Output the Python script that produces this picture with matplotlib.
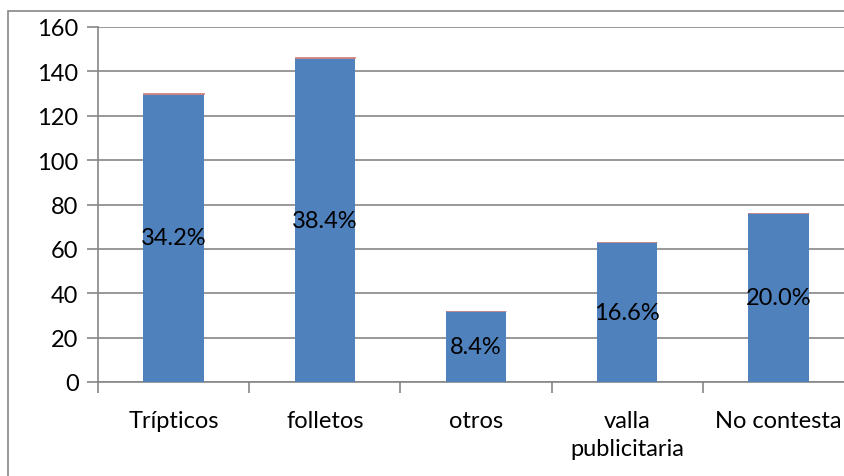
import matplotlib.pyplot as plt
from matplotlib.patches import Rectangle
import numpy as np

categories = ['Trípticos', 'folletos', 'otros', 'valla\npublicitaria', 'No contesta']
counts = [130, 146, 32, 63, 76]
shares = [0.342, 0.384, 0.084, 0.166, 0.200]
share_labels = ['34.2%', '38.4%', '8.4%', '16.6%', '20.0%']

BLUE = '#4F81BD'
RED = '#C0504D'
GRAY = '#868686'

plt.rcParams['font.family'] = ['Lato', 'DejaVu Sans']

fig = plt.figure(figsize=(8.45, 4.77), dpi=100)
# chart frame, running off the right and bottom edges
fig.patches.append(Rectangle((8 / 845, -0.1), 1.2, 1.1 - 12 / 477,
                             transform=fig.transFigure, fill=False,
                             edgecolor=GRAY, linewidth=1.2))

ax = fig.add_axes([98 / 845, 1 - 383 / 477, 756 / 845, 355 / 477])
x = np.arange(len(categories))
ax.bar(x, counts, width=0.4, color=BLUE, zorder=3)
ax.bar(x, shares, width=0.4, bottom=counts, color=RED,
       edgecolor='#D88A88', linewidth=0.6, zorder=3)

for xi, c, lab in zip(x, counts, share_labels):
    ax.text(xi, c / 2, lab, ha='center', va='center', fontsize=17, zorder=4)

ax.set_xlim(-0.5, len(categories) - 0.5)
ax.set_ylim(0, 160)
ax.set_yticks(range(0, 161, 20))
ax.yaxis.grid(True, color=GRAY, linewidth=1.2, zorder=0)

ax.set_xticks(x)
ax.set_xticklabels(categories, fontsize=17, linespacing=1.4)
ax.set_xticks(np.arange(len(categories) + 1) - 0.5, minor=True)
ax.tick_params(axis='x', which='major', length=0, pad=20)
ax.tick_params(axis='x', which='minor', length=8, width=1.2, color=GRAY)
ax.tick_params(axis='y', length=8, width=1.2, color=GRAY, labelsize=17, pad=6)

for side in ['top', 'right']:
    ax.spines[side].set_visible(False)
for side in ['left', 'bottom']:
    ax.spines[side].set_color(GRAY)
    ax.spines[side].set_linewidth(1.2)

fig.savefig('out.png', dpi=100)
